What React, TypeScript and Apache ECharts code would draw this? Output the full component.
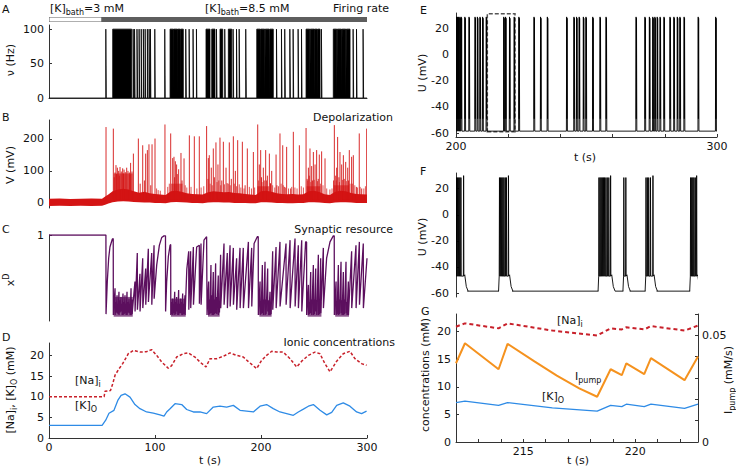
import React, { useEffect, useRef } from "react";
import * as echarts from "echarts";

// ---------------- data ----------------
const bathPhases: number[][] = [[0, 50], [50, 300]];

const aRate = 100;
const aBursts: number[][] = [
  [53.6, 54.0],
  [60.1, 78.0],
  [79.4, 79.9], [80.7, 81.2], [83.0, 83.6], [85.0, 85.5], [87.0, 87.4], [89.0, 89.6], [90.7, 91.1], [92.8, 93.3], [94.4, 94.9], [95.7, 96.1],
  [99.8, 100.2], [109.2, 109.6],
  [114.2, 117.5], [117.9, 121.0], [121.4, 123.8], [124.3, 126.7],
  [129.0, 129.5], [132.2, 132.7], [135.9, 136.3], [139.1, 139.5],
  [148.1, 151.9], [153.5, 156.6], [158.0, 158.5], [161.3, 163.9], [165.8, 166.3], [169.2, 172.4], [173.7, 174.2], [176.9, 177.4], [179.4, 179.9], [185.6, 186.1],
  [196.0, 199.5], [200.0, 203.5], [204.0, 207.8], [208.4, 211.6],
  [214.6, 215.1], [219.3, 219.8], [222.4, 222.9], [227.2, 227.7], [230.3, 230.8], [235.0, 235.5], [238.2, 238.7],
  [242.5, 246.0], [246.5, 250.0], [250.4, 253.0], [253.5, 255.7], [257.0, 257.5],
  [268.2, 271.5], [272.0, 276.0], [276.5, 280.0], [280.5, 284.0],
  [286.9, 287.4], [290.1, 290.6], [296.3, 296.8],
];

const bBandT = [0, 10, 20, 30, 40, 50, 53, 56, 60, 65, 70, 75, 80, 85, 90, 95, 100, 105, 110, 115, 120, 125, 130, 135, 140, 145, 150, 155, 160, 165, 170, 175, 180, 185, 190, 195, 200, 205, 210, 215, 220, 225, 230, 235, 240, 245, 250, 255, 260, 265, 270, 275, 280, 285, 290, 295, 300];
const bBandLow = [-10, -9, -10, -9, -10, -9, -6, -2, 2, 4, 5, 4, 3, 2, 1, 1, 0, 0, -1, 2, 3, 2, 1, 0, 0, -1, 1, 2, 2, 1, 1, 0, 0, 0, -1, -1, 2, 2, 1, 0, 0, -1, -1, 0, 0, 2, 2, 1, 0, -1, 1, 2, 2, 1, 0, 0, 0];
const bBandHigh = [13, 14, 12, 13, 14, 13, 20, 26, 36, 42, 44, 42, 36, 32, 35, 30, 28, 26, 25, 36, 38, 35, 30, 28, 27, 26, 33, 36, 35, 33, 34, 31, 30, 28, 26, 25, 36, 38, 35, 30, 28, 27, 28, 26, 27, 36, 38, 34, 27, 25, 35, 38, 36, 31, 28, 27, 26];
const bSpikeBase = 10;
const bDense: number[][] = [[61, 79, 10, 92], [115, 126, 10, 60], [196.5, 208, 10, 52], [243, 256, 10, 52], [268.5, 283, 10, 55]];
const bSpikes: number[][] = [
  [53.8, 237], [60.7, 232], [61.5, 80], [62.3, 95], [63.2, 118], [63.8, 90], [64.5, 110], [65.7, 100], [66.3, 85], [67.0, 112], [68.2, 98], [69.5, 108], [70.2, 92], [70.8, 104], [72.0, 96], [73.3, 110], [74.5, 100], [75.8, 95], [76.4, 88], [77.0, 125], [78.3, 98], [79.6, 154],
  [84.3, 201], [86, 60], [88.4, 180], [90, 70], [91.2, 154], [92.8, 165], [94.3, 183], [96, 55], [97.2, 183], [100, 201], [109.4, 245],
  [114.8, 217], [116.7, 140], [117.9, 144], [118.5, 80], [119.2, 130], [120.4, 120], [121, 90], [122.3, 105], [124.5, 156], [125.5, 70], [127.4, 139], [132.4, 211], [137.1, 208], [141.8, 208],
  [148.7, 240], [150, 75], [150.3, 140], [151.2, 149], [153.1, 110], [155, 170], [156, 80], [157.5, 189], [159.4, 120], [161.3, 204], [163, 70], [164.5, 191], [167, 110], [169, 60], [170.1, 189], [172, 75], [173.9, 208], [175.8, 100], [178, 196], [182.4, 191], [185, 55], [187.1, 170], [192.8, 159],
  [196.9, 245], [198.4, 120], [199.7, 165], [200.5, 80], [202.2, 110], [203, 70], [204.4, 165], [206, 85], [207.9, 154], [209, 60], [210.1, 100], [214.2, 151], [215, 55], [217.9, 217], [220.5, 180], [222, 50], [224.2, 175], [228, 45], [230.5, 222], [236.2, 180],
  [242.5, 234], [243.5, 75], [244.7, 110], [245.5, 85], [246.2, 170], [247.8, 115], [248.5, 70], [249.4, 159], [251, 120], [252.5, 165], [254, 75], [255, 151], [257.2, 161], [260.4, 139],
  [268.5, 70], [269.2, 243], [270.5, 85], [271.4, 110], [272.3, 206], [273.5, 80], [274.5, 159], [276.1, 120], [277.7, 149], [278.5, 75], [279.9, 128], [281.8, 110], [282.5, 70], [283.3, 165], [285.5, 144], [286, 60], [287.1, 149], [290, 50], [292.7, 217], [295, 45], [299.7, 232],
];
const bSmallSpikes: number[][] = [
  [101.5, 45], [103, 40], [105, 38], [112, 50], [113.5, 60], [128.5, 55], [130, 48], [134, 50], [139.5, 45], [143.5, 48], [146, 52], [152, 60], [154, 55], [158.5, 65], [160.2, 70], [162, 55], [165.5, 58], [168, 62], [171, 55], [174.8, 60], [177, 52], [179.5, 58], [181, 48], [184, 45], [189, 50], [191, 45], [194, 48],
  [197.8, 70], [201, 65], [205.2, 70], [208.8, 62], [211, 55], [213, 48], [216.5, 52], [219, 60], [221, 55], [223.2, 48], [226, 45], [229, 50], [232, 48], [234, 45], [238, 52], [240, 48],
  [244, 70], [247, 65], [250.2, 72], [253.3, 68], [256, 60], [258.5, 55], [262, 45], [265, 42], [267, 45], [271, 70], [274, 65], [277, 72], [280.5, 68], [284, 60], [288.5, 55], [291, 48], [293.5, 50], [297, 45], [298.5, 52],
];

const cTrace: number[][] = [
  [0, 1], [53.7, 1], [53.8, 0.08], [55.0, 0.46], [56.3, 0.73], [57.5, 0.86], [59.7, 0.95], [60.6, 0.96], [60.7, 0.07],
  [62.3, 0.38], [62.4, 0.07], [63.2, 0.22], [63.3, 0.1], [64.2, 0.3], [64.3, 0.09], [65.1, 0.2], [65.2, 0.08], [66.0, 0.34], [66.1, 0.07], [67.0, 0.24], [67.1, 0.1], [67.9, 0.28], [68.0, 0.11], [68.9, 0.2], [69.0, 0.07], [69.8, 0.32], [69.9, 0.07], [70.8, 0.22], [70.9, 0.08], [71.7, 0.3], [71.8, 0.09], [72.6, 0.2], [72.7, 0.07], [73.6, 0.34], [73.7, 0.07], [74.5, 0.22], [74.6, 0.1], [75.5, 0.26], [75.6, 0.09], [76.4, 0.2], [76.5, 0.07], [77.4, 0.38], [77.5, 0.07], [78.3, 0.25], [78.4, 0.08],
  [81.1, 0.46], [81.2, 0.11], [83.3, 0.79], [83.4, 0.13], [85.8, 0.55], [85.9, 0.11], [88.4, 0.73], [88.5, 0.15], [91.2, 0.61], [91.3, 0.19], [93.7, 0.84], [93.8, 0.22], [96.9, 0.79], [97.0, 0.19], [99.1, 0.88], [99.2, 0.26], [101.6, 0.65], [104.1, 0.88], [106.3, 0.97], [108.5, 0.99], [109.9, 0.99], [110.0, 0.11],
  [111.0, 0.45], [112.6, 0.75], [114.2, 0.88], [114.8, 0.89], [114.9, 0.07],
  [115.8, 0.22], [115.9, 0.08], [116.7, 0.26], [116.8, 0.07], [117.6, 0.2], [117.7, 0.09], [118.6, 0.34], [118.7, 0.07], [119.5, 0.22], [119.6, 0.08], [120.4, 0.28], [120.5, 0.11], [121.4, 0.2], [121.5, 0.07], [122.3, 0.36], [122.4, 0.07], [123.3, 0.2], [123.4, 0.09], [124.2, 0.26], [124.3, 0.09], [125.2, 0.22], [125.3, 0.07], [126.1, 0.32], [126.2, 0.07], [127.0, 0.2], [127.1, 0.08], [128.3, 0.3], [128.4, 0.07],
  [130.0, 0.6], [131.8, 0.81], [131.9, 0.13], [133.6, 0.81], [133.7, 0.15], [136.2, 0.86], [136.3, 0.19], [139.3, 0.86], [141.8, 0.88], [141.9, 0.2], [143.4, 0.9], [143.5, 0.19], [146.2, 0.94], [148.7, 0.98], [149.0, 0.98], [149.1, 0.07],
  [150.6, 0.46], [150.7, 0.07], [151.6, 0.25], [151.7, 0.08], [152.8, 0.65], [152.9, 0.09], [153.8, 0.3], [153.9, 0.07], [155.0, 0.57], [155.1, 0.07], [156.0, 0.25], [156.1, 0.08], [157.2, 0.67], [157.3, 0.09], [158.2, 0.28], [158.3, 0.08], [159.7, 0.53], [159.8, 0.07], [160.7, 0.22], [160.8, 0.1],
  [161.9, 0.77], [162.0, 0.15], [165.1, 0.9], [165.2, 0.19], [168.2, 0.79], [168.3, 0.15], [170.8, 0.88], [170.9, 0.17], [173.9, 0.85], [174.0, 0.19], [177.0, 0.73], [177.1, 0.13], [180.2, 0.85], [180.3, 0.15], [183.3, 0.85], [183.4, 0.15], [188.1, 0.92], [188.2, 0.15], [191.2, 0.85], [191.3, 0.17], [193.5, 0.9], [196.5, 0.98], [197.4, 0.98], [197.5, 0.07],
  [199.1, 0.46], [199.2, 0.07], [200.0, 0.22], [200.1, 0.08], [201.3, 0.65], [201.4, 0.09], [202.2, 0.25], [202.3, 0.07], [203.8, 0.69], [203.9, 0.07], [204.7, 0.25], [204.8, 0.08], [206.3, 0.61], [206.4, 0.11], [207.2, 0.24], [207.3, 0.07], [208.5, 0.34], [208.6, 0.07], [209.4, 0.2], [209.5, 0.08],
  [211.0, 0.81], [211.1, 0.13], [214.2, 0.86], [214.3, 0.15], [217.9, 0.92], [218.0, 0.17], [223.6, 0.9], [223.7, 0.19], [227.4, 0.94], [227.5, 0.15], [232.1, 0.96], [232.2, 0.17], [235.2, 0.88], [235.3, 0.15], [238.4, 0.94], [238.5, 0.11], [242.1, 0.92], [243.0, 0.92], [243.1, 0.07],
  [244.7, 0.42], [244.8, 0.07], [245.6, 0.22], [245.7, 0.08], [246.9, 0.57], [247.0, 0.09], [247.8, 0.25], [247.9, 0.07], [249.4, 0.65], [249.5, 0.07], [250.3, 0.25], [250.4, 0.08], [251.6, 0.61], [251.7, 0.11], [252.5, 0.24], [252.6, 0.07], [254.1, 0.77], [254.2, 0.07], [255.0, 0.22], [255.1, 0.08], [256.3, 0.73], [256.4, 0.09],
  [258.8, 0.85], [258.9, 0.15], [261.9, 0.73], [265.1, 0.92], [268.2, 0.99], [269.1, 0.99], [269.2, 0.07],
  [270.8, 0.46], [270.9, 0.07], [271.7, 0.22], [271.8, 0.08], [273.0, 0.65], [273.1, 0.07], [273.9, 0.25], [274.0, 0.08], [275.5, 0.69], [275.6, 0.09], [276.4, 0.24], [276.5, 0.07], [277.7, 0.57], [277.8, 0.07], [278.6, 0.25], [278.7, 0.08], [280.2, 0.69], [280.3, 0.09], [281.1, 0.22], [281.2, 0.07], [282.4, 0.46], [282.5, 0.07],
  [285.5, 0.81], [285.6, 0.15], [289.6, 0.88], [289.7, 0.15], [292.8, 0.92], [292.9, 0.19], [296.5, 0.9], [296.6, 0.15], [300, 0.73],
];
const cDense: number[][] = [
  [61, 79, 0.05, 0.28], [115, 129, 0.05, 0.26], [150, 161, 0.05, 0.22], [198.5, 210, 0.05, 0.22], [244, 257, 0.05, 0.22], [270, 283, 0.05, 0.22],
];

const dNa: number[][] = [
  [0, 10], [52, 10], [52.8, 11.3], [58, 11.5], [60.1, 13.1], [62.3, 15.2], [66.2, 16.8], [69.5, 18], [74.8, 20.4], [79.5, 21.2], [85.8, 20.8], [92, 20.9], [96.8, 21.4], [101.6, 20], [106.3, 18.4], [112.5, 16.9], [115.7, 17.5], [120.4, 19.6], [126.7, 20.4], [131.4, 20.6], [137.7, 19.6], [142.4, 18.4], [148.1, 17.2], [151.9, 19.2], [158.2, 19.2], [164.5, 19.8], [170.7, 20.6], [177, 20], [183.3, 19.6], [188.1, 18.5], [195.9, 16.8], [200.6, 18.8], [205.3, 20], [210.1, 21], [214.8, 20.8], [221, 20.8], [227.4, 19.2], [233.6, 17.2], [238.4, 18.6], [244.7, 20], [250.9, 20.8], [255.6, 20.4], [260.3, 18], [265.1, 16], [271.4, 18.6], [277.6, 20.4], [283.9, 21], [288.6, 19.2], [294.9, 18], [299.6, 17.6],
];
const dK: number[][] = [
  [0, 3.06], [50.1, 3.06], [53.5, 4.3], [56.6, 6.0], [61.3, 6.7], [64.9, 9.1], [68, 10.3], [71.7, 10.7], [76.4, 9.9], [81.1, 8.1], [85.8, 7.1], [92.1, 6.3], [98.4, 6.0], [104.7, 5.6], [108.5, 5.3], [111, 6.3], [114.2, 7.1], [118.9, 8.3], [125.2, 8.1], [129.9, 6.9], [136.2, 6.3], [142.4, 6.3], [148.7, 5.9], [155, 7.5], [161.3, 7.7], [167.6, 7.5], [173.9, 7.9], [180.2, 6.7], [186.5, 6.5], [192.8, 6.3], [199.1, 7.7], [205.3, 8.1], [211.6, 7.1], [217.9, 6.3], [224.2, 5.9], [230.5, 5.5], [235.2, 6.3], [240, 7.0], [244.7, 7.7], [249.4, 8.1], [255.7, 6.7], [262, 5.6], [266.7, 6.2], [271.4, 7.9], [277.6, 8.5], [283.9, 7.7], [290.2, 6.3], [294.9, 5.9], [299.6, 6.5],
];

const eRest = -58.5, ePeak = 29, eTrough = -49;
const eBursts = [200.2, 200.6, 201.0, 201.5, 202.0, 203.4, 205.0, 207.3, 208.2, 209.2, 210.2, 211.6, 218.3, 219.0, 220.5, 222.3, 224.1, 229.9, 232.4, 235.0, 242.4, 245.2, 246.2, 247.2, 248.8, 249.8, 252.4, 255.2, 257.5, 269.0, 272.4, 274.1, 275.4, 276.2, 277.1, 278.2, 279.7, 282.0, 283.5, 284.8, 285.8, 287.4, 292.8, 299.5];
const eZoomWindow = [212, 222.6];

const fRest = -58.5, fPeak = 28.5, fTrough = -47;
const fBursts: number[][] = [
  [212.02, 212.07, 212.12, 212.17, 212.22, 212.34],
  [213.94, 213.99, 214.04, 214.09, 214.14, 214.2, 214.25, 214.34],
  [218.38, 218.43, 218.48, 218.53, 218.58, 218.63, 218.69, 218.75, 218.82, 218.9],
  [219.49, 219.58],
  [220.48, 220.54, 220.6, 220.68, 220.79],
  [222.47, 222.52, 222.57, 222.62, 222.68, 222.74],
];
// rest-potential stretches between bursts
const fRestSpans: number[][] = [[212.5, 213.92], [214.5, 218.36], [219.1, 219.47], [219.75, 220.46], [220.95, 222.45]];

const gNa: number[][] = [[212.0, 20.9], [212.4, 21.5], [213.9, 20.6], [214.3, 21.5], [216.3, 20.2], [218.3, 19.3], [218.9, 20.6], [219.4, 20.4], [219.6, 20.8], [220.4, 20.4], [220.7, 21.0], [222.2, 20.2], [222.8, 21.1]];
const gK: number[][] = [[212.0, 7.15], [212.4, 7.4], [213.9, 6.65], [214.3, 7.15], [216.3, 6.2], [218.3, 5.6], [218.9, 6.65], [219.4, 6.4], [219.6, 6.85], [220.4, 6.4], [220.7, 6.85], [222.2, 6.1], [222.8, 6.85]];
const gPump: number[][] = [[212.0, 0.0369], [212.4, 0.0463], [213.9, 0.0341], [214.3, 0.046], [215.5, 0.0378], [216.5, 0.0311], [217.5, 0.0251], [218.3, 0.0212], [218.9, 0.0341], [219.4, 0.0313], [219.6, 0.0369], [220.4, 0.0318], [220.7, 0.0393], [222.2, 0.029], [222.8, 0.0401]];

// ---------------- styling ----------------
const FONT = "DejaVu Sans, Verdana, sans-serif";
const AX = "#333";
const TXT = "#111";
const RED_B = "#d41414";
const PURPLE = "#5c0f5e";
const RED_NA = "#c8202a";
const BLUE = "#2e8be6";
const ORANGE = "#f5921e";
const R90 = Math.PI / 2;

const RICH = {
  sub: { fontSize: 8, lineHeight: 8, verticalAlign: "bottom", fontFamily: FONT, fill: TXT },
  sup: { fontSize: 8, lineHeight: 8, verticalAlign: "top", fontFamily: FONT, fill: TXT },
};

function T(x: number, y: number, text: string, align = "left", rot = 0, size = 11) {
  return {
    type: "text", x, y, rotation: rot, silent: true,
    style: { text, fontSize: size, fontFamily: FONT, fill: TXT, align, verticalAlign: "middle", lineHeight: 16, rich: RICH },
  };
}

function yAx(grid: number, min: number, max: number, labels: number[], ticks: number[], extra: any = {}) {
  return {
    type: "value", gridIndex: grid, min, max,
    axisLine: { show: true, onZero: false, lineStyle: { color: AX, width: 1 } },
    axisTick: { show: ticks.length > 0, inside: true, length: 3, customValues: ticks, lineStyle: { color: AX } },
    axisLabel: { show: labels.length > 0, customValues: labels, fontSize: 11, color: TXT, fontFamily: FONT, margin: 5 },
    splitLine: { show: false },
    ...extra,
  };
}
function xAx(grid: number, min: number, max: number, labels: number[] | null, ticks: number[]) {
  if (labels === null) return { type: "value", gridIndex: grid, min, max, show: false };
  return {
    type: "value", gridIndex: grid, min, max,
    axisLine: { show: true, onZero: false, lineStyle: { color: AX, width: 1 } },
    axisTick: { show: ticks.length > 0, inside: true, length: 3, customValues: ticks, lineStyle: { color: AX } },
    axisLabel: { show: labels.length > 0, customValues: labels, fontSize: 11, color: TXT, fontFamily: FONT, margin: 4 },
    splitLine: { show: false },
  };
}

// one polyline per data item; item i is drawn from the list groups[i]
function groupSeries(xi: number, groups: number[][][], color: string, width: number) {
  return {
    type: "custom", xAxisIndex: xi, yAxisIndex: xi, silent: true, clip: true,
    data: groups.map((g, i) => [g[0][0], g[0][1], i]),
    renderItem: (_p: any, api: any) => {
      const g = groups[api.value(2)];
      return {
        type: "polyline",
        shape: { points: g.map((p) => api.coord(p)) },
        style: { stroke: color, lineWidth: width, fill: null },
      };
    },
  };
}
function spikeSeries(xi: number, data: number[][], base: number, color: string, width: number, opacity: number) {
  return {
    type: "custom", xAxisIndex: xi, yAxisIndex: xi, silent: true, clip: true, data,
    renderItem: (_p: any, api: any) => {
      const a = api.coord([api.value(0), base]);
      const b = api.coord([api.value(0), api.value(1)]);
      return { type: "line", shape: { x1: a[0], y1: a[1], x2: b[0], y2: b[1] }, style: { stroke: color, lineWidth: width, opacity } };
    },
  };
}
function blockSeries(xi: number, data: number[][], color: string, opacity: number) {
  return {
    type: "custom", xAxisIndex: xi, yAxisIndex: xi, silent: true, clip: true, data,
    renderItem: (_p: any, api: any) => {
      const a = api.coord([api.value(0), api.value(3)]);
      const b = api.coord([api.value(1), api.value(2)]);
      return { type: "rect", shape: { x: a[0], y: a[1], width: b[0] - a[0], height: b[1] - a[1] }, style: { fill: color, opacity } };
    },
  };
}

export default function App() {
  const ref = useRef<HTMLDivElement>(null);
  useEffect(() => {
    if (!ref.current) return;
    const chart = echarts.init(ref.current, null, { renderer: "svg" });

    // A: firing-rate blocks
    const aData: number[][] = [[0, 0]];
    aBursts.forEach(([s, e]) => { aData.push([s, 0], [s, aRate], [e, aRate], [e, 0]); });
    aData.push([300, 0]);

    // E: burst glyphs
    const eData: number[][] = [[200, eRest]];
    eBursts.forEach((t) => {
      eData.push([t - 0.1, eRest], [t, ePeak], [t + 0.08, eTrough], [t + 0.16, ePeak - 1], [t + 0.28, eRest]);
    });
    eData.push([300, eRest]);

    // F: each burst is its own polyline, rest stretches separate
    const fGroups: number[][][] = fBursts.map((b, bi) => {
      const g: number[][] = [];
      g.push(bi === 0 ? [212, fTrough] : [b[0] - 0.04, fRest]);
      b.forEach((s, i) => {
        const pk = i === b.length - 1 && b.length > 2 ? fPeak + 1.5 : fPeak;
        g.push([s - 0.012, fTrough], [s, pk], [s + 0.012, fTrough]);
      });
      const l = b[b.length - 1];
      g.push([l + 0.05, -46], [l + 0.12, -55], [l + 0.2, fRest]);
      return g;
    });
    fRestSpans.forEach(([s, e]) => fGroups.push([[s, fRest], [e, fRest]]));

    const ticks01 = [0, 0.01, 0.02, 0.03, 0.04, 0.05, 0.06];
    const gTicks = [212, 213, 214, 215, 216, 217, 218, 219, 220, 221, 222];
    const yLab = (m: number) => ({ customValues: [-60, -40, -20, 0, 20], fontSize: 11, color: TXT, fontFamily: FONT, margin: m });

    const option: any = {
      animation: false,
      backgroundColor: "#fff",
      textStyle: { fontFamily: FONT },
      grid: [
        { left: 49, top: 17, width: 318, height: 5 },
        { left: 49, top: 25, width: 318, height: 73 },
        { left: 49, top: 120, width: 318, height: 88 },
        { left: 49, top: 235, width: 318, height: 86 },
        { left: 49, top: 343, width: 318, height: 95 },
        { left: 456, top: 13, width: 261, height: 124 },
        { left: 456, top: 173, width: 242, height: 124 },
        { left: 456, top: 314, width: 242, height: 128 },
      ],
      xAxis: [
        xAx(0, 0, 300, null, []),
        xAx(1, 0, 300, [], []),
        xAx(2, 0, 300, null, []),
        xAx(3, 0, 300, null, []),
        xAx(4, 0, 300, [0, 100, 200, 300], [0, 100, 200, 300]),
        xAx(5, 200, 300, [200, 300], [200, 220, 240, 260, 280, 300]),
        xAx(6, 212, 222.8, null, []),
        xAx(7, 212, 222.8, [215, 220], gTicks),
      ],
      yAxis: [
        { type: "value", gridIndex: 0, min: 0, max: 1, show: false },
        yAx(1, 0, 106, [0, 50, 100], [0, 50, 100]),
        yAx(2, -16, 259, [0, 100, 200], [0, 100, 200]),
        yAx(3, 0, 1, [1], [1]),
        yAx(4, 0, 23, [0, 5, 10, 15, 20], [0, 5, 10, 15, 20]),
        yAx(5, -63, 32, [-60, -40, -20, 0, 20], [-60, -40, -20, 0, 20], { axisLabel: yLab(7) }),
        yAx(6, -63, 32, [-60, -40, -20, 0, 20], [-60, -40, -20, 0, 20], { axisLabel: yLab(7) }),
        yAx(7, 0, 23.2, [0, 5, 10, 15, 20], [0, 5, 10, 15, 20]),
        yAx(7, 0, 0.06, [0, 0.05], ticks01, { position: "right", axisLabel: { customValues: [0, 0.05], fontSize: 11, color: TXT, fontFamily: FONT, margin: 4, formatter: (v: number) => String(v) } }),
      ],
      series: [
        {
          type: "custom", xAxisIndex: 0, yAxisIndex: 0, silent: true, clip: true,
          data: bathPhases.map((p, i) => [p[0], p[1], i]),
          renderItem: (_p: any, api: any) => {
            const a = api.coord([api.value(0), 1]);
            const b = api.coord([api.value(1), 0]);
            const first = api.value(2) === 0;
            return {
              type: "rect",
              shape: { x: a[0], y: a[1], width: b[0] - a[0], height: b[1] - a[1] },
              style: { fill: first ? "#fff" : "#5e5e5e", stroke: "#5e5e5e", lineWidth: 1 },
            };
          },
        },
        {
          type: "line", xAxisIndex: 1, yAxisIndex: 1, data: aData, symbol: "none", silent: true,
          lineStyle: { color: "#000", width: 0.8 }, areaStyle: { color: "#000", opacity: 1 },
        },
        {
          type: "custom", xAxisIndex: 2, yAxisIndex: 2, silent: true, clip: true, data: [[0, 0]],
          renderItem: (_p: any, api: any) => {
            const pts: number[][] = [];
            for (let i = 0; i < bBandT.length; i++) pts.push(api.coord([bBandT[i], bBandHigh[i]]));
            for (let i = bBandT.length - 1; i >= 0; i--) pts.push(api.coord([bBandT[i], bBandLow[i]]));
            return { type: "polygon", shape: { points: pts }, style: { fill: RED_B } };
          },
        },
        blockSeries(2, bDense, RED_B, 0.6),
        spikeSeries(2, bSmallSpikes, bSpikeBase, RED_B, 0.9, 0.8),
        spikeSeries(2, bSpikes, bSpikeBase, RED_B, 0.9, 1),
        blockSeries(3, cDense, PURPLE, 0.7),
        {
          type: "line", xAxisIndex: 3, yAxisIndex: 3, data: cTrace, symbol: "none", silent: true,
          lineStyle: { color: PURPLE, width: 1.3 },
        },
        {
          type: "line", xAxisIndex: 4, yAxisIndex: 4, data: dNa, symbol: "none", silent: true,
          lineStyle: { color: RED_NA, width: 1.5, type: [3, 2] },
        },
        {
          type: "line", xAxisIndex: 4, yAxisIndex: 4, data: dK, symbol: "none", silent: true,
          lineStyle: { color: BLUE, width: 1.3 },
        },
        groupSeries(5, [eData], "#000", 0.9),
        {
          type: "line", xAxisIndex: 5, yAxisIndex: 5, data: [], symbol: "none", silent: true,
          markArea: {
            silent: true,
            itemStyle: { color: "rgba(0,0,0,0)", borderColor: "#555", borderWidth: 1.5, borderType: [4, 2] },
            data: [[{ xAxis: eZoomWindow[0], yAxis: -59 }, { xAxis: eZoomWindow[1], yAxis: 31.5 }]],
          },
        },
        groupSeries(6, fGroups, "#000", 0.9),
        {
          type: "line", xAxisIndex: 7, yAxisIndex: 7, data: gNa, symbol: "none", silent: true,
          lineStyle: { color: RED_NA, width: 2, type: [4, 3] },
        },
        {
          type: "line", xAxisIndex: 7, yAxisIndex: 8, data: gPump, symbol: "none", silent: true,
          lineStyle: { color: ORANGE, width: 2 },
        },
        {
          type: "line", xAxisIndex: 7, yAxisIndex: 7, data: gK, symbol: "none", silent: true,
          lineStyle: { color: BLUE, width: 1.3 },
        },
      ],
      graphic: [
        T(2, 9, "A"),
        T(50, 8, "[K]{sub|bath}=3 mM"),
        T(205, 8, "[K]{sub|bath}=8.5 mM"),
        T(389, 8, "Firing rate", "right"),
        T(10, 60, "ν (Hz)", "center", R90),
        T(2, 117, "B"),
        T(393, 117, "Depolarization", "right"),
        T(10, 165, "V (mV)", "center", R90),
        T(2, 229, "C"),
        T(393, 229, "Synaptic resource", "right"),
        T(10, 280, "x{sup|D}", "center", R90),
        T(2, 337, "D"),
        T(395, 342, "Ionic concentrations", "right"),
        T(10, 390, "[Na]{sub|i}, [K]{sub|O} (mM)", "center", R90),
        T(75, 380, "[Na]{sub|i}"),
        T(75, 405, "[K]{sub|O}"),
        T(210, 460, "t (s)", "center"),
        T(420, 10, "E"),
        T(422, 73, "U (mV)", "center", R90),
        T(585, 157, "t (s)", "center"),
        T(420, 171, "F"),
        T(422, 237, "U (mV)", "center", R90),
        T(421, 311, "G"),
        T(425, 375, "concentrations (mM)", "center", R90),
        T(728, 380, "I{sub|pump} (mM/s)", "center", R90),
        T(578, 460, "t (s)", "center"),
        T(557, 320, "[Na]{sub|i}"),
        T(575, 376, "I{sub|pump}"),
        T(542, 396, "[K]{sub|O}"),
      ],
    };
    chart.setOption(option);
    return () => chart.dispose();
  }, []);
  return <div ref={ref} style={{ position: "fixed", left: 0, top: 0, width: 736, height: 467, background: "#fff" }} />;
}
